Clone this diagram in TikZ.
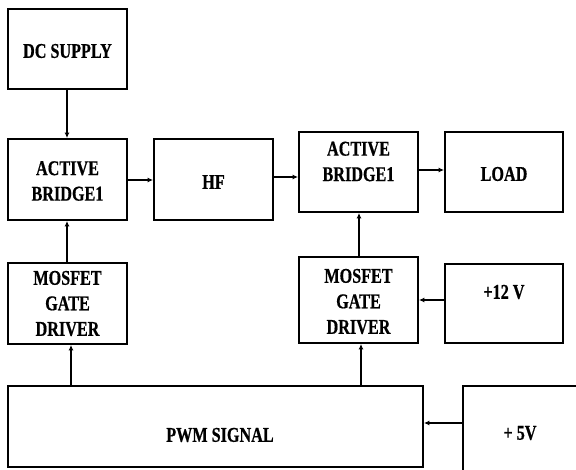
\documentclass[tikz,border=0pt]{standalone}
\usepackage{fontspec}
\setmainfont{Liberation Serif}[FakeStretch=0.77,BoldFeatures={FakeBold=0.6}]
\usetikzlibrary{arrows.meta}
\begin{document}
\begin{tikzpicture}[x=1pt,y=-1pt,
  blk/.style={draw,line width=1.8pt,rectangle,inner sep=0pt},
  lbl/.style={inner sep=0pt,align=center,font=\fontsize{21}{25.5}\selectfont\bfseries},
  conn/.style={line width=1.6pt,-{Latex[length=5.5pt,width=5pt]}}]
\useasboundingbox (0,0) rectangle (576,470);
\fill[white] (0,0) rectangle (576,470);
\begin{scope}
\clip (0,0) rectangle (576,470);
% boxes
\node[blk,minimum width=119pt,minimum height=80pt] (dc) at (67.5,49) {};
\node[blk,minimum width=119pt,minimum height=81pt] (ab1) at (67.5,179.5) {};
\node[blk,minimum width=119pt,minimum height=81pt] (hf) at (213.5,179.5) {};
\node[blk,minimum width=119pt,minimum height=80pt] (ab2) at (358.5,172) {};
\node[blk,minimum width=118pt,minimum height=80pt] (load) at (504,172) {};
\node[blk,minimum width=119pt,minimum height=81pt] (mg1) at (67.5,303.5) {};
\node[blk,minimum width=119pt,minimum height=86pt] (mg2) at (358.5,300) {};
\node[blk,minimum width=118pt,minimum height=79pt] (v12) at (504,303.5) {};
\node[blk,minimum width=415pt,minimum height=81pt] (pwm) at (215.5,426.5) {};
\node[blk,minimum width=140pt,minimum height=100pt] (v5) at (533,436) {};
% texts
\node[lbl] (tdc) at (67.5,51) {DC SUPPLY};
\node[lbl] (tab1) at (67.5,181) {ACTIVE\\BRIDGE1};
\node[lbl] (thf) at (213.5,182) {HF};
\node[lbl] (tab2) at (358.5,161.5) {ACTIVE\\BRIDGE1};
\node[lbl] (tload) at (504,174) {LOAD};
\node[lbl] (tmg1) at (67.5,303.5) {MOSFET\\GATE\\DRIVER};
\node[lbl] (tmg2) at (358.5,301.5) {MOSFET\\GATE\\DRIVER};
\node[lbl] (tv12) at (504,292) {+12 V};
\node[lbl] (tpwm) at (220,435) {PWM SIGNAL};
\node[lbl] (tv5) at (520,433) {+ 5V};
% connectors
\draw[conn] (dc.south -| 67,0) -- (ab1.north -| 67,0);
\draw[conn] (ab1.east |- 0,180) -- (hf.west |- 0,180);
\draw[conn] (hf.east |- 0,177) -- (ab2.west |- 0,177);
\draw[conn] (ab2.east |- 0,170) -- (load.west |- 0,170);
\draw[conn] (mg1.north -| 67,0) -- (ab1.south -| 67,0);
\draw[conn] (mg2.north -| 359,0) -- (ab2.south -| 359,0);
\draw[conn] (v12.west |- 0,300) -- (mg2.east |- 0,300);
\draw[conn] (pwm.north -| 71,0) -- (mg1.south -| 71,0);
\draw[conn] (pwm.north -| 361,0) -- (mg2.south -| 361,0);
\draw[conn] (v5.west |- 0,423) -- (pwm.east |- 0,423);
\end{scope}
\end{tikzpicture}
\end{document}
